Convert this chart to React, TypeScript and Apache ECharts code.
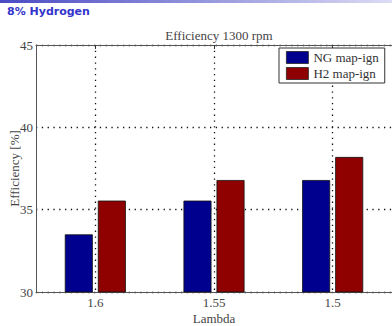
import React, { useEffect, useRef } from "react";
import * as echarts from "echarts";

const categories = ["1.6", "1.55", "1.5"];
const ngValues = [33.5, 35.55, 36.8];
const h2Values = [35.55, 36.8, 38.2];
const seriesNames = ["NG map-ign", "H2 map-ign"];
const yTicks = { min: 30, max: 45, interval: 5 };

const serif = "'Liberation Serif', 'Times New Roman', serif";

export default function App() {
  const ref = useRef<HTMLDivElement>(null);
  useEffect(() => {
    document.body.style.margin = "0";
    const chart = echarts.init(ref.current!, undefined, { renderer: "svg" });
    const dotted = { color: "#111", width: 1.3, type: [1.3, 4.5] as any };
    chart.setOption({
      animation: false,
      backgroundColor: "#fff",
      graphic: [
        {
          type: "rect",
          shape: { x: 0, y: 0, width: 392, height: 3 },
          style: {
            fill: new echarts.graphic.LinearGradient(0, 0, 1, 0, [
              { offset: 0, color: "#4a4ac4" },
              { offset: 1, color: "#dcdcf4" },
            ]),
          },
        },
        {
          type: "text",
          left: 7,
          top: 6,
          style: {
            text: "8% Hydrogen",
            fill: "#3434cc",
            font: "bold 11px 'DejaVu Sans', sans-serif",
          },
        },
      ],
      title: {
        text: "Efficiency 1300 rpm",
        left: 214,
        top: 24,
        textAlign: "center",
        textStyle: { fontFamily: serif, fontSize: 13, fontWeight: "normal", color: "#444" },
      },
      legend: {
        data: seriesNames,
        orient: "vertical",
        left: 279,
        top: 48,
        itemWidth: 22,
        itemHeight: 12,
        itemGap: 3,
        padding: [3, 6, 3, 7],
        borderColor: "#333",
        borderWidth: 1,
        backgroundColor: "#fff",
        icon: "rect",
        textStyle: { fontFamily: serif, fontSize: 13, color: "#333" },
        itemStyle: { borderColor: "#222", borderWidth: 0.8 },
      },
      grid: { left: 36, top: 45, width: 356, height: 247, containLabel: false, outerBoundsMode: "none" } as any,
      xAxis: [
        {
          type: "category",
          data: categories,
          name: "Lambda",
          nameLocation: "middle",
          nameGap: 20,
          nameMoveOverlap: false,
          nameTextStyle: { fontFamily: serif, fontSize: 13, color: "#444", lineHeight: 13 },
          axisLine: { lineStyle: { color: "#555", width: 1 } },
          axisTick: { show: false },
          axisLabel: { fontFamily: serif, fontSize: 13, color: "#444", margin: 4, lineHeight: 13 },
          splitLine: { show: true, alignWithLabel: true, lineStyle: dotted },
        } as any,
        {
          type: "category",
          data: categories,
          position: "top",
          axisLine: { show: true, lineStyle: { color: "#555", width: 1 } },
          axisTick: { show: true, inside: true, alignWithLabel: true, length: 4, lineStyle: { color: "#333" } },
          axisLabel: { show: false },
          splitLine: { show: false },
        },
      ],
      yAxis: {
        type: "value",
        min: yTicks.min,
        max: yTicks.max,
        interval: yTicks.interval,
        name: "Efficiency [%]",
        nameLocation: "middle",
        nameGap: 15,
        nameMoveOverlap: false,
        nameTextStyle: { fontFamily: serif, fontSize: 13, color: "#444" },
        axisLine: { show: true, lineStyle: { color: "#555", width: 1 } },
        axisTick: { show: false },
        axisLabel: { fontFamily: serif, fontSize: 13, color: "#444", margin: 3 },
        splitLine: { show: true, lineStyle: dotted },
      } as any,
      series: [
        {
          name: seriesNames[0],
          type: "bar",
          data: ngValues,
          barWidth: 28,
          barGap: "18%",
          itemStyle: { color: "#00008f", borderColor: "#111", borderWidth: 0.8 },
        },
        {
          name: seriesNames[1],
          type: "bar",
          data: h2Values,
          barWidth: 28,
          barGap: "18%",
          itemStyle: { color: "#8f0000", borderColor: "#111", borderWidth: 0.8 },
        },
      ],
    });
    return () => chart.dispose();
  }, []);
  return <div ref={ref} style={{ width: 392, height: 326 }} />;
}
